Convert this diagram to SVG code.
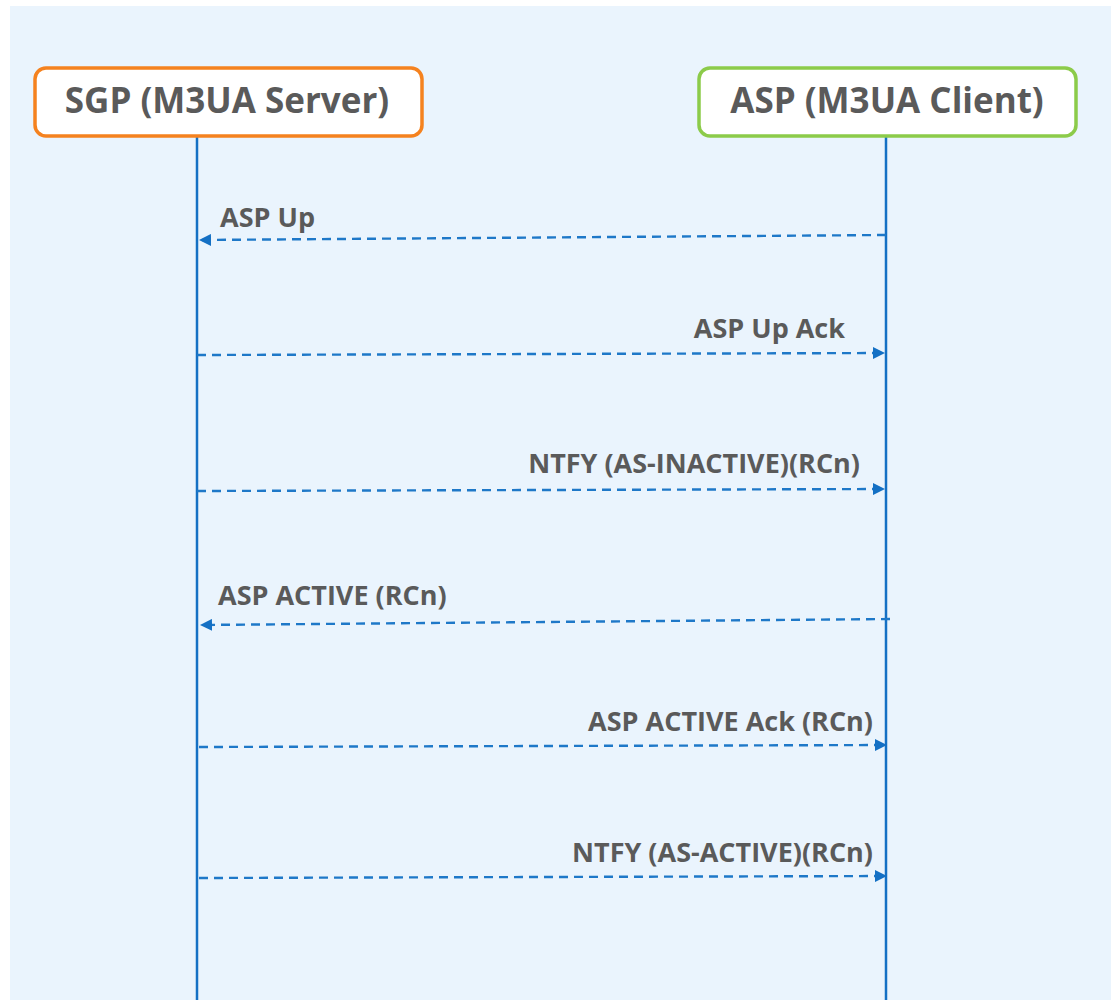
<svg xmlns="http://www.w3.org/2000/svg" width="1111" height="1000" viewBox="0 0 1111 1000">
<defs>
<style>
.bg{fill:#EAF4FD}
.node rect{fill:#FFFFFF;stroke-width:3.5}
.title{font-family:"Open Sans","Liberation Sans",sans-serif;font-weight:700;font-size:35px;fill:#5A5A5A;text-anchor:middle}
.life{stroke:#1470C4;stroke-width:2.5;fill:none}
.msg{stroke:#1E78C8;stroke-width:2.4;stroke-dasharray:9 6;fill:none}
.lbl{font-family:"Open Sans","Liberation Sans",sans-serif;font-weight:700;font-size:27px;fill:#5A5A5A}
</style>
<marker id="ah" viewBox="0 0 10 10" refX="10" refY="5" markerWidth="12" markerHeight="12" markerUnits="userSpaceOnUse" orient="auto">
<path d="M0,0 L10,5 L0,10 Z" fill="#1470C4"/>
</marker>
</defs>
<rect x="0" y="0" width="1111" height="1000" fill="#FFFFFF"/>
<rect class="bg" x="10" y="6" width="1101" height="994"/>
<g id="lifelines">
<line class="life" x1="197" y1="137" x2="197" y2="1000"/>
<line class="life" x1="886" y1="137" x2="886" y2="1000"/>
</g>
<g id="sgp" class="node">
<rect x="35" y="68" width="387" height="68" rx="11" stroke="#F5821F"/>
<text class="title" x="227" y="113">SGP (M3UA Server)</text>
</g>
<g id="asp" class="node">
<rect x="699" y="68" width="377" height="68" rx="11" stroke="#8CCB4A"/>
<text class="title" x="887" y="113">ASP (M3UA Client)</text>
</g>
<g id="connectors">
<line class="msg" x1="886" y1="235" x2="199" y2="240" marker-end="url(#ah)"/>
<line class="msg" x1="197" y1="355" x2="885" y2="353" marker-end="url(#ah)"/>
<line class="msg" x1="197" y1="491" x2="885" y2="489" marker-end="url(#ah)"/>
<line class="msg" x1="890" y1="619" x2="200" y2="625" marker-end="url(#ah)"/>
<line class="msg" x1="199" y1="747" x2="887" y2="745" marker-end="url(#ah)"/>
<line class="msg" x1="199" y1="878" x2="887" y2="876" marker-end="url(#ah)"/>
</g>
<g id="labels">
<text class="lbl" x="220" y="227">ASP Up</text>
<text class="lbl" x="845" y="338" text-anchor="end">ASP Up Ack</text>
<text class="lbl" x="860" y="473" text-anchor="end">NTFY (AS-INACTIVE)(RCn)</text>
<text class="lbl" x="218" y="605">ASP ACTIVE (RCn)</text>
<text class="lbl" x="873" y="731" text-anchor="end">ASP ACTIVE Ack (RCn)</text>
<text class="lbl" x="873" y="862" text-anchor="end">NTFY (AS-ACTIVE)(RCn)</text>
</g>
</svg>
